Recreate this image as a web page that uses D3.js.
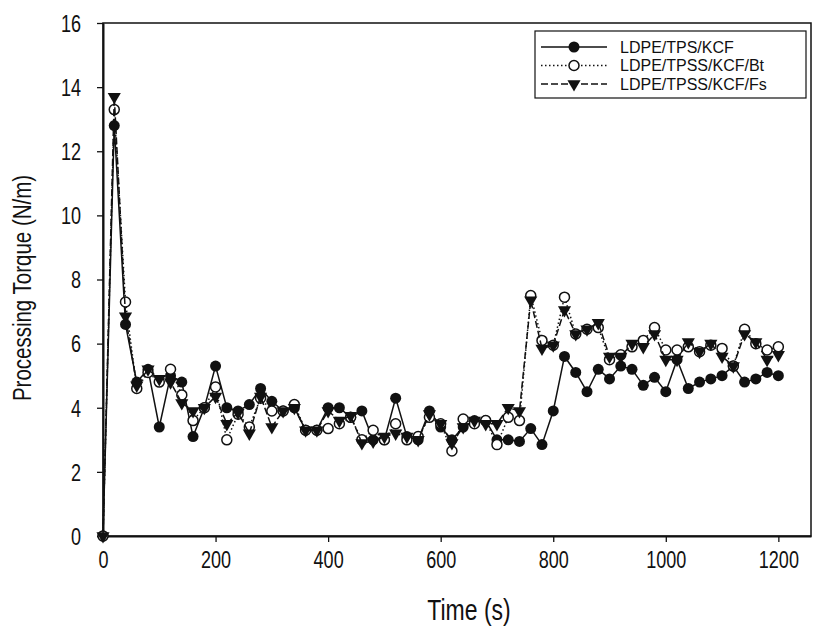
<!DOCTYPE html>
<html>
<head>
<meta charset="utf-8">
<script src="https://cdn.jsdelivr.net/npm/d3@7"></script>
<style>
  body { margin: 0; background: #fff; }
  text { font-family: "Liberation Sans", Arial, sans-serif; fill: #111; }
</style>
</head>
<body>
<div id="chart"></div>
<script>
// time axis, one reading every 20 s
var times = d3.range(0, 1201, 20);

var seriesNames = ["LDPE/TPS/KCF", "LDPE/TPSS/KCF/Bt", "LDPE/TPSS/KCF/Fs"];

var kcfValues = [0, 12.8, 6.6, 4.8, 5.2, 3.4, 5.0, 4.8, 3.1, 4.0,
  5.3, 4.0, 3.9, 4.1, 4.6, 4.2, 3.9, 4.0, 3.3, 3.3,
  4.0, 4.0, 3.7, 3.9, 3.0, 3.0, 4.3, 3.1, 3.0, 3.9,
  3.4, 3.0, 3.4, 3.6, 3.6, 3.0, 3.0, 2.95, 3.35, 2.85,
  3.9, 5.6, 5.1, 4.5, 5.2, 4.9, 5.3, 5.2, 4.7, 4.95,
  4.5, 5.5, 4.6, 4.8, 4.9, 5.0, 5.3, 4.8, 4.9, 5.1, 5.0];

var btValues = [0, 13.3, 7.3, 4.6, 5.1, 4.8, 5.2, 4.4, 3.6, 4.0,
  4.65, 3.0, 3.8, 3.4, 4.3, 3.9, 3.9, 4.1, 3.3, 3.3,
  3.35, 3.5, 3.7, 3.0, 3.3, 3.0, 3.5, 3.0, 3.1, 3.7,
  3.5, 2.65, 3.65, 3.5, 3.6, 2.85, 3.7, 3.6, 7.5, 6.1,
  5.95, 7.45, 6.3, 6.45, 6.5, 5.5, 5.65, 5.9, 6.1, 6.5,
  5.8, 5.8, 5.9, 5.75, 5.95, 5.85, 5.3, 6.45, 6.0, 5.8, 5.9];

var fsValues = [0, 13.7, 6.85, 4.7, 5.2, 4.9, 4.8, 4.15, 3.9, 4.0,
  4.35, 3.5, 3.85, 3.2, 4.35, 3.4, 3.9, 4.0, 3.3, 3.3,
  3.9, 3.6, 3.75, 2.9, 2.95, 3.1, 3.2, 3.1, 3.0, 3.8,
  3.5, 2.9, 3.4, 3.6, 3.5, 3.5, 4.0, 3.9, 7.35, 5.85,
  5.95, 7.05, 6.3, 6.45, 6.65, 5.6, 5.6, 6.0, 5.9, 6.3,
  5.5, 5.5, 6.05, 5.75, 6.0, 5.6, 5.3, 6.3, 6.05, 5.5, 5.65];

var xTicks = [0, 200, 400, 600, 800, 1000, 1200];
var yTicks = [0, 2, 4, 6, 8, 10, 12, 14, 16];

var svgWidth = 827;
var svgHeight = 629;

var margin = {
  top: 23,
  right: 16,
  bottom: 93,
  left: 103
};

var width = svgWidth - margin.left - margin.right;
var height = svgHeight - margin.top - margin.bottom;

// the source picture is a bit stretched vertically, text too
var stretch = 1.25;

var svg = d3.select("#chart")
  .append("svg")
  .attr("width", svgWidth)
  .attr("height", svgHeight);

var chartGroup = svg.append("g")
  .attr("transform", `translate(${margin.left}, ${margin.top})`);

var xScale = d3.scaleLinear().domain([0, 1258]).range([0, width]);
var yScale = d3.scaleLinear().domain([0, 16]).range([height, 0]);

// frame (top and right edges)
chartGroup.append("rect")
  .attr("width", width)
  .attr("height", height)
  .attr("fill", "none")
  .attr("stroke", "#111")
  .attr("stroke-width", 1.5);

var xAxis = chartGroup.append("g")
  .attr("transform", `translate(0, ${height})`)
  .call(d3.axisBottom(xScale).tickValues(xTicks).tickFormat(d3.format("d")).tickSize(6).tickSizeOuter(0));

var yAxis = chartGroup.append("g")
  .call(d3.axisLeft(yScale).tickValues(yTicks).tickFormat(d3.format("d")).tickSize(6).tickSizeOuter(0));

[xAxis, yAxis].forEach(function(ax) {
  ax.select(".domain").attr("stroke", "#111").attr("stroke-width", 2);
  ax.selectAll(".tick line").attr("stroke", "#111").attr("stroke-width", 1.3);
  ax.selectAll(".tick text")
    .style("font-size", "19px")
    .style("font-family", "'Liberation Sans', Arial, sans-serif")
    .attr("fill", "#111")
    .attr("x", null)
    .attr("y", null)
    .attr("dy", "0.35em");
});

// reposition tick labels with the vertical stretch
xAxis.selectAll(".tick text")
  .attr("transform", `translate(0, 24) scale(0.95, ${stretch})`);
yAxis.selectAll(".tick text")
  .attr("transform", `translate(-22, 0) scale(0.95, ${stretch})`);

// axis titles
chartGroup.append("text")
  .attr("transform", `translate(366, ${height + 74}) scale(1, ${stretch})`)
  .attr("text-anchor", "middle")
  .attr("dy", "0.35em")
  .style("font-size", "23px")
  .text("Time (s)");

chartGroup.append("text")
  .attr("transform", `translate(${22 - margin.left}, ${265}) rotate(-90) scale(1, ${stretch})`)
  .attr("text-anchor", "middle")
  .attr("dy", "0.35em")
  .style("font-size", "20.5px")
  .text("Processing Torque (N/m)");

var series = [
  { name: seriesNames[0], values: kcfValues, dash: null, marker: "filled" },
  { name: seriesNames[1], values: btValues, dash: "1.5,2.5", marker: "open" },
  { name: seriesNames[2], values: fsValues, dash: "7,3", marker: "tri" }
];

var line = d3.line()
  .x(d => xScale(d[0]))
  .y(d => yScale(d[1]));

var triangle = d3.symbol().type(d3.symbolTriangle).size(75);

function drawMarker(g, kind) {
  if (kind === "filled") {
    g.append("circle").attr("r", 5.5).attr("fill", "#111");
  } else if (kind === "open") {
    g.append("circle").attr("r", 5).attr("fill", "#fff").attr("stroke", "#111").attr("stroke-width", 1.5);
  } else {
    g.append("path").attr("d", triangle()).attr("transform", "rotate(180)").attr("fill", "#111");
  }
}

series.forEach(function(s) {
  var pts = times.map((t, i) => [t, s.values[i]]);
  chartGroup.append("path")
    .datum(pts)
    .attr("fill", "none")
    .attr("stroke", "#111")
    .attr("stroke-width", 1.5)
    .attr("stroke-dasharray", s.dash)
    .attr("d", line);

  chartGroup.selectAll(null)
    .data(pts)
    .enter()
    .append("g")
    .attr("transform", d => `translate(${xScale(d[0])}, ${yScale(d[1])})`)
    .each(function() { drawMarker(d3.select(this), s.marker); });
});

// legend
var legend = svg.append("g").attr("transform", "translate(535, 31)");
legend.append("rect")
  .attr("width", 271)
  .attr("height", 67)
  .attr("fill", "#fff")
  .attr("stroke", "#111")
  .attr("stroke-width", 1.2);

series.forEach(function(s, i) {
  var row = legend.append("g").attr("transform", `translate(0, ${16 + i * 18.5})`);
  row.append("line")
    .attr("x1", 6).attr("x2", 72)
    .attr("stroke", "#111")
    .attr("stroke-width", 1.5)
    .attr("stroke-dasharray", s.dash);
  drawMarker(row.append("g").attr("transform", "translate(39, 0)"), s.marker);
  row.append("text")
    .attr("x", 85)
    .attr("dy", "0.35em")
    .style("font-size", "16px")
    .text(s.name);
});
</script>
</body>
</html>
